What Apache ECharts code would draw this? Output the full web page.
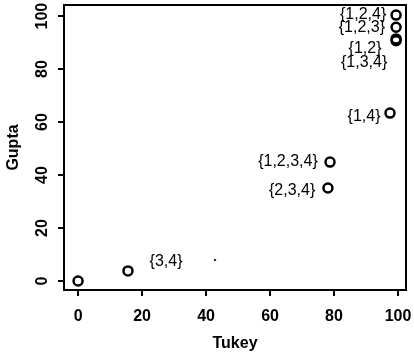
<!DOCTYPE html>
<html><head><meta charset="utf-8">
<script src="https://cdn.jsdelivr.net/npm/echarts@6/dist/echarts.min.js"></script>
<style>html,body{margin:0;padding:0;background:#fff}#c{width:414px;height:358px}</style>
</head><body><div id="c"></div>
<script>
// Tick labels
const xTicks = [0, 20, 40, 60, 80, 100];
const yTicks = [0, 20, 40, 60, 80, 100];
// Circle points (Tukey, Gupta)
const tukey = [0, 15.6, 78.1, 78.75, 97.5, 99.4, 99.4, 99.4, 99.4];
const gupta = [0, 3.8, 35.1, 44.9, 63.4, 91.4, 90.7, 95.8, 100.4];
// Small dot point
const dotTukey = [42.8];
const dotGupta = [7.9];
// Subset labels and their positions
const labelText = ['{1,2,4}', '{1,2,3}', '{1,2}', '{1,3,4}', '{1,4}', '{1,2,3,4}', '{2,3,4}', '{3,4}'];
const labelX = [89.1, 88.7, 89.7, 89.4, 89.4, 65.6, 66.9, 27.5];
const labelY = [100.4, 95.8, 87.9, 82.6, 61.9, 44.9, 34.3, 7.2];

const font = 'Liberation Sans, Arial, Helvetica, sans-serif';
const chart = echarts.init(document.getElementById('c'), null, {renderer: 'canvas'});
chart.setOption({
  animation: false,
  backgroundColor: '#fff',
  grid: {left: 64, right: 8, top: 5, bottom: 68, containLabel: false, outerBoundsMode: 'none',
         show: true, borderColor: '#000', borderWidth: 2, backgroundColor: 'transparent'},
  xAxis: {
    type: 'value', min: -4.4, max: 102.5,
    name: 'Tukey', nameLocation: 'middle', nameGap: 46,
    nameTextStyle: {fontFamily: font, fontSize: 16, fontWeight: 'bold', color: '#000'},
    axisLine: {show: false, onZero: false},
    splitLine: {show: false},
    axisTick: {show: true, inside: false, customValues: xTicks, length: 6, lineStyle: {color: '#000', width: 2}},
    axisLabel: {customValues: xTicks, margin: 19, fontFamily: font, fontSize: 16, fontWeight: 'bold', color: '#000'}
  },
  yAxis: {
    type: 'value', min: -3.4, max: 104.2,
    name: 'Gupta', nameLocation: 'middle', nameGap: 42, nameRotate: 90,
    nameTextStyle: {fontFamily: font, fontSize: 16, fontWeight: 'bold', color: '#000'},
    axisLine: {show: false, onZero: false},
    splitLine: {show: false},
    axisTick: {show: true, inside: false, customValues: yTicks, length: 6, lineStyle: {color: '#000', width: 2}},
    axisLabel: {customValues: yTicks, rotate: 90, margin: 13, fontFamily: font, fontSize: 16, fontWeight: 'bold', color: '#000', align: 'center', verticalAlign: 'bottom'}
  },
  series: [
    {
      type: 'scatter', symbol: 'circle', symbolSize: 9,
      itemStyle: {color: 'rgba(0,0,0,0)', borderColor: '#000', borderWidth: 2.5, opacity: 1},
      data: tukey.map((x, i) => [x, gupta[i]]),
      z: 3
    },
    {
      type: 'scatter', symbol: 'circle', symbolSize: 2.5,
      itemStyle: {color: '#000'},
      data: dotTukey.map((x, i) => [x, dotGupta[i]])
    },
    {
      type: 'scatter', symbolSize: 1, symbol: 'circle',
      itemStyle: {color: 'rgba(0,0,0,0)'},
      data: labelX.map((x, i) => ({value: [x, labelY[i]], name: labelText[i]})),
      label: {show: true, position: 'inside', formatter: p => p.name, fontFamily: font, fontSize: 16,
              color: '#000', textBorderWidth: 0, opacity: 1},
      labelLayout: {hideOverlap: false},
      z: 4
    }
  ]
});
</script></body></html>
